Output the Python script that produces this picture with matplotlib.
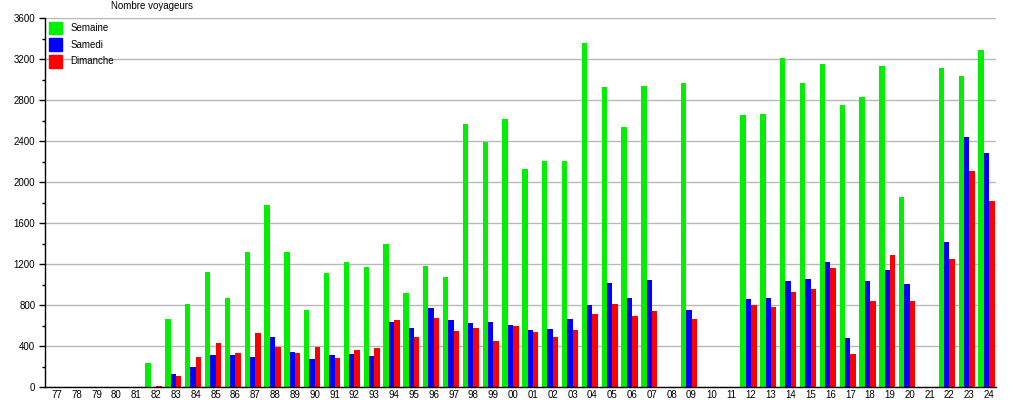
import numpy as np
import matplotlib
matplotlib.use("Agg")
import matplotlib.pyplot as plt
from matplotlib.patches import Patch
from matplotlib.ticker import MultipleLocator

plt.rcParams['font.family'] = ['Liberation Sans', 'DejaVu Sans']

years = ["77", "78", "79", "80", "81", "82", "83", "84", "85", "86", "87", "88",
         "89", "90", "91", "92", "93", "94", "95", "96", "97", "98", "99", "00",
         "01", "02", "03", "04", "05", "06", "07", "08", "09", "10", "11", "12",
         "13", "14", "15", "16", "17", "18", "19", "20", "21", "22", "23", "24"]

semaine = [0, 0, 0, 0, 0, 237, 663, 813, 1122, 871, 1317, 1779,
           1317, 751, 1112, 1220, 1171, 1395, 917, 1180, 1073, 2566, 2390, 2615,
           2127, 2205, 2205, 3356, 2927, 2537, 2937, 0, 2966, 0, 0, 2654,
           2663, 3210, 2966, 3151, 2751, 2829, 3132, 1854, 0, 3112, 3034, 3288]

samedi = [0, 0, 0, 0, 0, 0, 127, 198, 312, 312, 293, 488,
          345, 273, 312, 322, 302, 634, 576, 771, 654, 624, 634, 605,
          556, 566, 663, 800, 1015, 868, 1044, 0, 751, 0, 0, 859,
          868, 1034, 1054, 1220, 478, 1034, 1141, 1005, 0, 1415, 2440, 2283]

dimanche = [0, 0, 0, 0, 0, 10, 107, 296, 432, 335, 530, 393,
            335, 393, 283, 361, 380, 654, 491, 673, 546, 576, 449, 595,
            537, 491, 556, 712, 810, 693, 741, 0, 663, 0, 0, 800,
            780, 927, 956, 1161, 322, 839, 1288, 839, 0, 1249, 2107, 1815]

c_sem = '#00f000'
c_sam = '#0000ff'
c_dim = '#ff0000'

fig = plt.figure(figsize=(10.15, 4.0), dpi=100)
ax = fig.add_axes([45/1015, 1 - 387/400, 951/1015, 369/400])

x = np.arange(len(years))
w = 0.27
ax.bar(x - 0.40, semaine, w, color=c_sem)
ax.bar(x - 0.13, samedi, w, color=c_sam)
ax.bar(x + 0.14, dimanche, w, color=c_dim)

ax.set_xlim(-0.6, len(years) - 0.65)
ax.set_ylim(0, 3600)
ax.set_xticks(x)
ax.set_xticklabels(years)
ax.yaxis.set_major_locator(MultipleLocator(400))
ax.yaxis.set_minor_locator(MultipleLocator(200))
ax.tick_params(axis='x', length=0, pad=2.5, labelsize=7)
ax.tick_params(axis='y', which='major', length=4, width=1, pad=3, labelsize=7)
ax.tick_params(axis='y', which='minor', length=2, width=1)

ax.grid(axis='y', which='major', color='#b8b8b8', linewidth=1)
ax.set_axisbelow(True)
for s in ['top', 'right']:
    ax.spines[s].set_visible(False)
ax.spines['left'].set_linewidth(1)
ax.spines['bottom'].set_linewidth(1)

# legend squares about 13 px, one row every 17 px
handles = [Patch(color=c_sem, label='Semaine'),
           Patch(color=c_sam, label='Samedi'),
           Patch(color=c_dim, label='Dimanche')]
leg = ax.legend(handles=handles, loc='upper left', frameon=False, fontsize=7,
                handlelength=1.34, handleheight=1.6, labelspacing=0.42,
                handletextpad=0.9, borderaxespad=0.3, borderpad=0.1)

fig.text(111/1015, 1 - 6/400, 'Nombre voyageurs', fontsize=7, ha='left', va='center')

fig.savefig('out.png', dpi=100)
